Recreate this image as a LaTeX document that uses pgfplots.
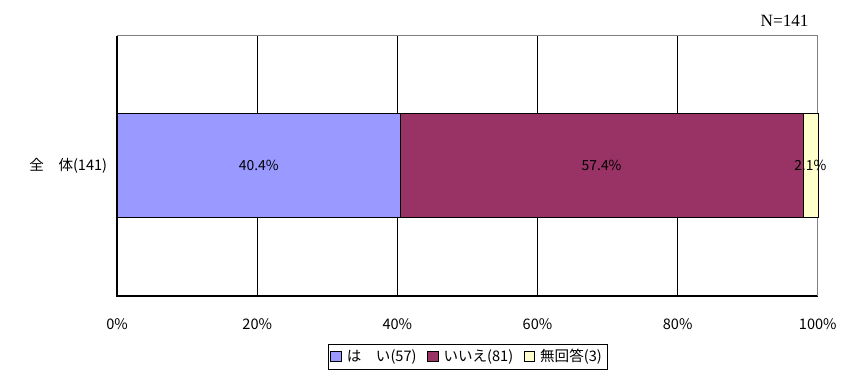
\documentclass[border=0pt]{standalone}
\usepackage{fontspec}
\setmainfont{Noto Sans CJK JP}
\newfontfamily\serif{Liberation Serif}
\usepackage{pgfplots}
\pgfplotsset{compat=1.18}
\definecolor{hai}{HTML}{9999FF}
\definecolor{iie}{HTML}{993366}
\definecolor{mukaito}{HTML}{FFFFCC}
\pgfplotsset{sq/.style={legend image code/.code={\draw[##1,draw=black] (0pt,-4pt) rectangle (8pt,4pt);}}}

\begin{document}
\begin{tikzpicture}
\begin{axis}[
  scale only axis, width=529.5pt, height=196.5pt, clip=false,
  xbar stacked, bar width=0.8,
  xmin=0, xmax=100, ymin=0, ymax=2,
  xtick={0,20,...,100}, ytick={1}, yticklabels={全　体(141)},
  xticklabel={\pgfmathprintnumber{\tick}\%},
  /pgf/number format/assume math mode=true,
  xmajorgrids, grid style={black, line width=0.5pt},
  tick style={draw=none},
  axis line style={draw=none},
  ticklabel style={font=\fontsize{11}{13}\selectfont},
  xticklabel style={yshift=-13.5pt},
  yticklabel style={xshift=-4pt},
  point meta=rawx,
  nodes near coords={\pgfmathprintnumber[fixed,precision=1]{\pgfplotspointmeta}\%},
  every node near coord/.append style={anchor=center, font=\fontsize{10.5}{12}\selectfont},
  legend style={at={(0.5,-0.233)}, anchor=center, legend columns=-1, draw=black,
     font=\fontsize{11}{13}\selectfont, inner sep=2pt,
     /tikz/every odd column/.append style={column sep=2pt},
     /tikz/every even column/.append style={column sep=6pt}},
]
\addplot[fill=hai, draw=black, sq] coordinates {(40.43,1)};
\addplot[fill=iie, draw=black, sq] coordinates {(57.44,1)};
\addplot[fill=mukaito, draw=black, sq] coordinates {(2.13,1)};
\legend{は　い(57), いいえ(81), 無回答(3)}
\draw[gray, line width=0.8pt] (rel axis cs:0,1) -- (rel axis cs:1,1) -- (rel axis cs:1,0);
\draw[black, line width=1.2pt] (rel axis cs:0,1) -- (rel axis cs:0,0) -- (rel axis cs:1,0);
\node[anchor=south east, inner sep=0pt, xshift=-6.75pt, yshift=6.5pt,
  font=\serif\fontsize{13}{14}\selectfont] at (rel axis cs:1,1) {N=141};
\end{axis}
\path[use as bounding box] (-88.5pt,-68.25pt) rectangle (542.25pt,223.5pt);
\end{tikzpicture}
\end{document}
